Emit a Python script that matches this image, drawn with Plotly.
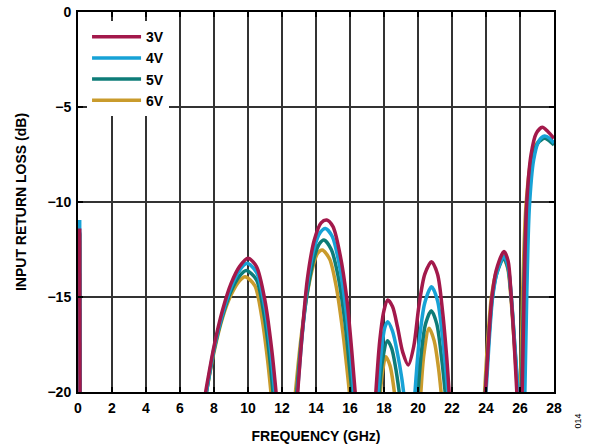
import plotly.graph_objects as go

N = None
# Frequency (GHz) and input return loss (dB) per supply voltage; None = below -20 dB (off chart)
freq_3v = [0.1, 0.12, N,
           7.45, 8.0, 8.5, 9.0, 9.5, 10.0, 10.5, 11.0, 11.4, 11.68, N,
           12.9, 13.2, 13.5, 13.9, 14.3, 14.63, 15.0, 15.4, 15.8, 16.1, 16.33, N,
           17.5, 17.75, 18.0, 18.22, 18.5, 18.8, 19.1, 19.43, 19.75, 20.05, 20.4, 20.8, 21.15, 21.45, 21.7, 21.85, N,
           23.95, 24.15, 24.35, 24.6, 25.06, 25.3, 25.47, 25.65, 25.83, N,
           26.12, 26.25, 26.4, 26.65, 26.95, 27.31, 27.65, 28.0]
rl_3v = [-11.4, -21, N,
         -20.3, -17.6, -15.7, -14.3, -13.4, -12.96, -13.4, -15.2, -17.8, -20.3, N,
         -20.3, -16.8, -14.0, -12.0, -11.1, -10.95, -11.3, -12.7, -15.0, -17.8, -20.3, N,
         -20.3, -17.3, -15.7, -15.16, -15.5, -16.6, -17.9, -18.58, -17.6, -15.5, -13.8, -13.14, -13.8, -15.8, -18.3, -20.3, N,
         -20.3, -17.3, -15.0, -13.6, -12.61, -13.1, -14.8, -17.3, -20.3, N,
         -20.3, -14.5, -10.0, -7.5, -6.4, -6.07, -6.3, -6.65]

freq_4v = [0.1, 0.12, N,
           7.5, 8.0, 8.5, 9.0, 9.5, 9.95, 10.5, 11.0, 11.35, 11.6, N,
           12.88, 13.2, 13.5, 13.9, 14.25, 14.55, 14.95, 15.35, 15.75, 16.05, 16.25, N,
           17.62, 17.85, 18.05, 18.22, 18.5, 18.8, 19.05, 19.19, N,
           19.8, 20.05, 20.4, 20.8, 21.15, 21.45, 21.65, 21.78, N,
           23.98, 24.18, 24.38, 24.65, 25.05, 25.3, 25.5, 25.7, 25.92, N,
           26.28, 26.4, 26.55, 26.8, 27.1, 27.45, 27.75, 28.0]
rl_4v = [-10.95, -21, N,
         -20.3, -17.7, -15.9, -14.5, -13.6, -13.23, -13.7, -15.6, -18.0, -20.3, N,
         -20.3, -16.9, -14.3, -12.4, -11.6, -11.39, -11.8, -13.2, -15.6, -18.2, -20.3, N,
         -20.3, -17.8, -16.6, -16.3, -16.8, -18.0, -19.3, -20.3, N,
         -20.3, -17.5, -15.3, -14.46, -15.2, -17.2, -19.0, -20.3, N,
         -20.3, -17.4, -15.1, -13.7, -12.85, -13.4, -15.1, -17.6, -20.3, N,
         -20.3, -14.8, -10.3, -7.8, -6.8, -6.53, -6.65, -6.9]

freq_5v = [0.1, 0.12, N,
           7.5, 8.0, 8.5, 9.0, 9.5, 9.9, 10.5, 10.9, 11.25, 11.5, N,
           12.84, 13.15, 13.5, 13.9, 14.2, 14.47, 14.9, 15.3, 15.7, 15.95, 16.15, N,
           17.7, 17.9, 18.2, 18.45, 18.7, 18.94, N,
           19.98, 20.2, 20.45, 20.78, 21.1, 21.4, 21.63, N,
           23.94, 24.15, 24.36, 24.62, 25.04, 25.3, 25.5, 25.7, 25.9, N,
           26.08, 26.22, 26.4, 26.7, 27.05, 27.45, 27.75, 28.0]
rl_5v = [-11.6, -21, N,
         -20.3, -17.8, -16.0, -14.7, -13.9, -13.6, -14.1, -15.7, -18.0, -20.3, N,
         -20.3, -17.2, -14.7, -12.9, -12.2, -12.0, -12.5, -13.9, -16.3, -18.5, -20.3, N,
         -20.3, -18.4, -17.3, -17.7, -18.8, -20.3, N,
         -20.3, -17.9, -16.4, -15.72, -16.4, -18.3, -20.3, N,
         -20.3, -17.4, -15.1, -13.8, -12.95, -13.5, -15.2, -17.7, -20.3, N,
         -20.3, -14.6, -10.2, -7.8, -6.9, -6.65, -6.8, -7.0]

freq_6v = [0.1, 0.12, N,
           7.5, 8.0, 8.5, 9.0, 9.5, 9.83, 10.4, 10.8, 11.15, 11.38, N,
           12.76, 13.1, 13.45, 13.85, 14.1, 14.37, 14.8, 15.2, 15.6, 15.8, 16.0, N,
           17.76, 17.92, 18.1, 18.35, 18.65, N,
           20.15, 20.35, 20.65, 20.95, 21.2, 21.39, N,
           23.9, 24.1, 24.32, 24.6, 25.02, 25.28, 25.48, 25.68, 25.88, N,
           26.02, 26.16, 26.35, 26.65, 27.0, 27.45, 27.75, 28.0]
rl_6v = [-11.7, -21, N,
         -20.3, -17.9, -16.1, -14.9, -14.15, -13.93, -14.4, -16.0, -18.3, -20.3, N,
         -20.3, -17.3, -15.0, -13.3, -12.7, -12.53, -13.0, -14.5, -17.0, -18.6, -20.3, N,
         -20.3, -18.9, -18.14, -18.6, -20.3, N,
         -20.3, -18.0, -16.65, -17.3, -18.7, -20.3, N,
         -20.3, -17.3, -15.0, -13.7, -12.95, -13.5, -15.2, -17.7, -20.3, N,
         -20.3, -14.6, -10.2, -7.8, -6.9, -6.62, -6.75, -6.9]

series = [
    ("6V", freq_6v, rl_6v, "#C99B2C"),
    ("5V", freq_5v, rl_5v, "#0E7C78"),
    ("4V", freq_4v, rl_4v, "#17A2D6"),
    ("3V", freq_3v, rl_3v, "#A3194B"),
]

x_ticks = list(range(0, 29, 2))
y_ticks = [0, -5, -10, -15, -20]

FONT = "Liberation Sans, Arial, sans-serif"

fig = go.Figure()
for name, fx, fy, col in series:
    fig.add_trace(go.Scatter(x=fx, y=fy, name=name, mode="lines",
                             line=dict(color=col, width=3.5, shape="spline", smoothing=0.8),
                             connectgaps=False))

axis_common = dict(showgrid=True, gridcolor="#333333", gridwidth=1.5,
                   showline=True, linecolor="black", linewidth=2, mirror="ticks",
                   ticks="inside", ticklen=5, tickcolor="black", tickwidth=1.5,
                   zeroline=False, automargin=False, ticklabelstandoff=2,
                   tickfont=dict(family=FONT, size=14, color="black", weight="bold"))

fig.update_layout(
    width=593, height=448,
    margin=dict(l=78, r=39, t=12, b=56),
    paper_bgcolor="white", plot_bgcolor="white",
    showlegend=True,
    legend=dict(x=0.019, y=0.976, xanchor="left", yanchor="top",
                bgcolor="white", borderwidth=0, traceorder="reversed",
                font=dict(family=FONT, size=14, color="black", weight="bold"),
                itemwidth=49, entrywidth=72, entrywidthmode="pixels"),
    xaxis=dict(range=[0, 28], tickvals=x_ticks,
               title=dict(text="FREQUENCY (GHz)", standoff=16,
                          font=dict(family=FONT, size=14, color="black", weight="bold")),
               **axis_common),
    yaxis=dict(range=[-20, 0], tickvals=y_ticks,
               title=dict(text="INPUT RETURN LOSS (dB)", standoff=18,
                          font=dict(family=FONT, size=14, color="black", weight="bold")),
               **axis_common),
    annotations=[dict(text="014", xref="paper", yref="paper", x=1.065, y=-0.1,
                      showarrow=False, textangle=-90,
                      font=dict(family=FONT, size=9, color="black"))],
)

# remove the browser's default 8px body margin so the figure sits at the window origin
fig.write_html("out.html", config={"displayModeBar": False},
               post_script="document.body.style.margin='0';")
